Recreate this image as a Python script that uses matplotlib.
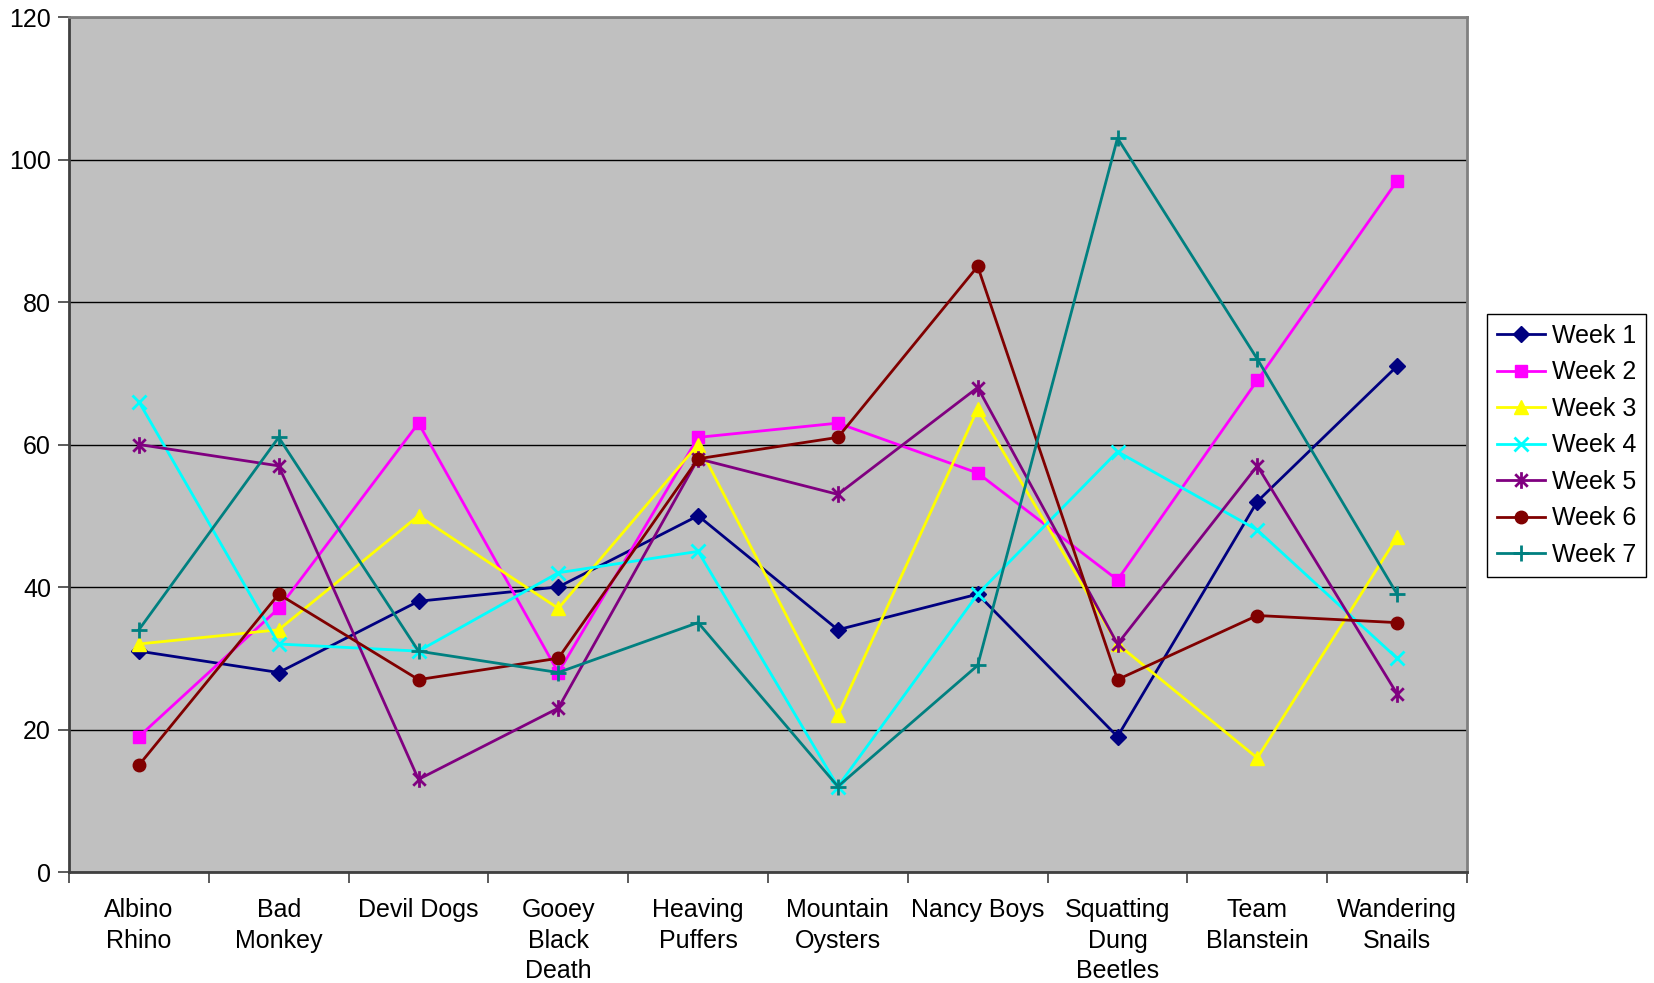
import matplotlib
matplotlib.use("Agg")
import matplotlib.pyplot as plt
from matplotlib.path import Path

plt.rcParams['font.family'] = ['Liberation Sans', 'DejaVu Sans']

teams = ["Albino\nRhino", "Bad\nMonkey", "Devil Dogs", "Gooey\nBlack\nDeath",
         "Heaving\nPuffers", "Mountain\nOysters", "Nancy Boys",
         "Squatting\nDung\nBeetles", "Team\nBlanstein", "Wandering\nSnails"]

week1 = [31, 28, 38, 40, 50, 34, 39, 19, 52, 71]
week2 = [19, 37, 63, 28, 61, 63, 56, 41, 69, 97]
week3 = [32, 34, 50, 37, 60, 22, 65, 32, 16, 47]
week4 = [66, 32, 31, 42, 45, 12, 39, 59, 48, 30]
week5 = [60, 57, 13, 23, 58, 53, 68, 32, 57, 25]
week6 = [15, 39, 27, 30, 58, 61, 85, 27, 36, 35]
week7 = [34, 61, 31, 28, 35, 12, 29, 103, 72, 39]

series_names = ["Week 1", "Week 2", "Week 3", "Week 4", "Week 5", "Week 6", "Week 7"]
series = [week1, week2, week3, week4, week5, week6, week7]

star = Path([(0, -1), (0, 1), (-0.75, -0.75), (0.75, 0.75), (-0.75, 0.75), (0.75, -0.75)],
            [Path.MOVETO, Path.LINETO, Path.MOVETO, Path.LINETO, Path.MOVETO, Path.LINETO])

styles = [
    dict(color="#000080", marker="D", ms=8),
    dict(color="#FF00FF", marker="s", ms=9),
    dict(color="#FFFF00", marker="^", ms=10),
    dict(color="#00FFFF", marker="x", ms=10, mew=2),
    dict(color="#800080", marker=star, ms=12, mew=2, mfc="none"),
    dict(color="#800000", marker="o", ms=9),
    dict(color="#008080", marker="+", ms=11, mew=2),
]

FS = 18

fig = plt.figure(figsize=(16.54, 9.83), dpi=100)
ax = fig.add_axes([69/1654, 1 - 872/983, (1467 - 69)/1654, (872 - 17)/983])
ax.set_facecolor("#C0C0C0")

x = list(range(len(teams)))
for name, vals, st in zip(series_names, series, styles):
    kw = dict(st)
    color = kw.pop("color")
    ax.plot(x, vals, color=color, lw=2, mec=color,
            mfc=kw.pop("mfc", color), label=name, **kw)

ax.set_xlim(-0.5, len(teams) - 0.5)
ax.set_ylim(0, 120)
ax.set_yticks(range(0, 121, 20))
ax.yaxis.grid(True, color="black", lw=1)
ax.set_axisbelow(True)

ax.set_xticks(x)
ax.set_xticklabels(teams, fontsize=FS, linespacing=1.33)
ax.set_xticks([i - 0.5 for i in range(len(teams) + 1)], minor=True)
ax.tick_params(axis="x", which="major", length=0, pad=19)
ax.tick_params(axis="x", which="minor", length=8, width=1.2, color="#404040", direction="out")
ax.tick_params(axis="y", labelsize=FS, length=8, width=1.2, color="#404040", direction="out", pad=5)

for side in ("left", "bottom"):
    ax.spines[side].set_color("#404040")
    ax.spines[side].set_linewidth(2)
for side in ("top", "right"):
    ax.spines[side].set_color("#808080")
    ax.spines[side].set_linewidth(2)

leg = fig.legend(loc="upper left", bbox_to_anchor=(1487/1654, 1 - 314/983),
                 fontsize=FS, frameon=True, fancybox=False, edgecolor="black",
                 framealpha=1, handlelength=1.9, handletextpad=0.3,
                 labelspacing=0.5, borderpad=0.4, borderaxespad=0)
leg.get_frame().set_linewidth(1)

fig.savefig("out.png", dpi=100)
